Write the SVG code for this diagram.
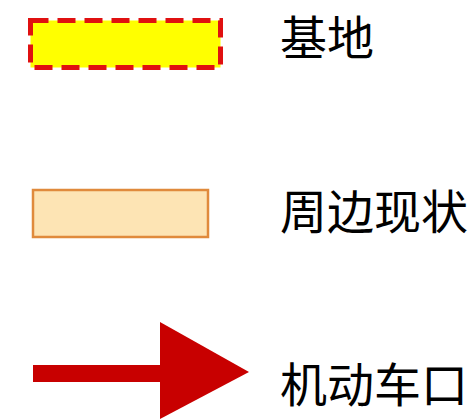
<svg xmlns="http://www.w3.org/2000/svg" width="474" height="419" viewBox="0 0 474 419">
<style>
.lbl{font-family:"Noto Sans CJK SC","Noto Sans",sans-serif;font-size:47px;fill:#000}
</style>
<rect width="474" height="419" fill="#fff"/>
<g id="legend-site">
<rect x="30.5" y="20.5" width="190" height="47" fill="#ffff00" stroke="#e01010" stroke-width="5" stroke-dasharray="18 9"/>
<text class="lbl" x="280" y="55">基地</text>
</g>
<g id="legend-surrounding">
<rect x="33" y="190" width="175" height="47" fill="#fde4b4" stroke="#e08a3c" stroke-width="2.5"/>
<text class="lbl" x="280" y="229">周边现状</text>
</g>
<g id="legend-entrance">
<rect x="33" y="365" width="130" height="17" fill="#c80000"/>
<polygon points="160,322 249,372 160,419" fill="#c80000"/>
<text class="lbl" x="280" y="402">机动车口</text>
</g>
</svg>
